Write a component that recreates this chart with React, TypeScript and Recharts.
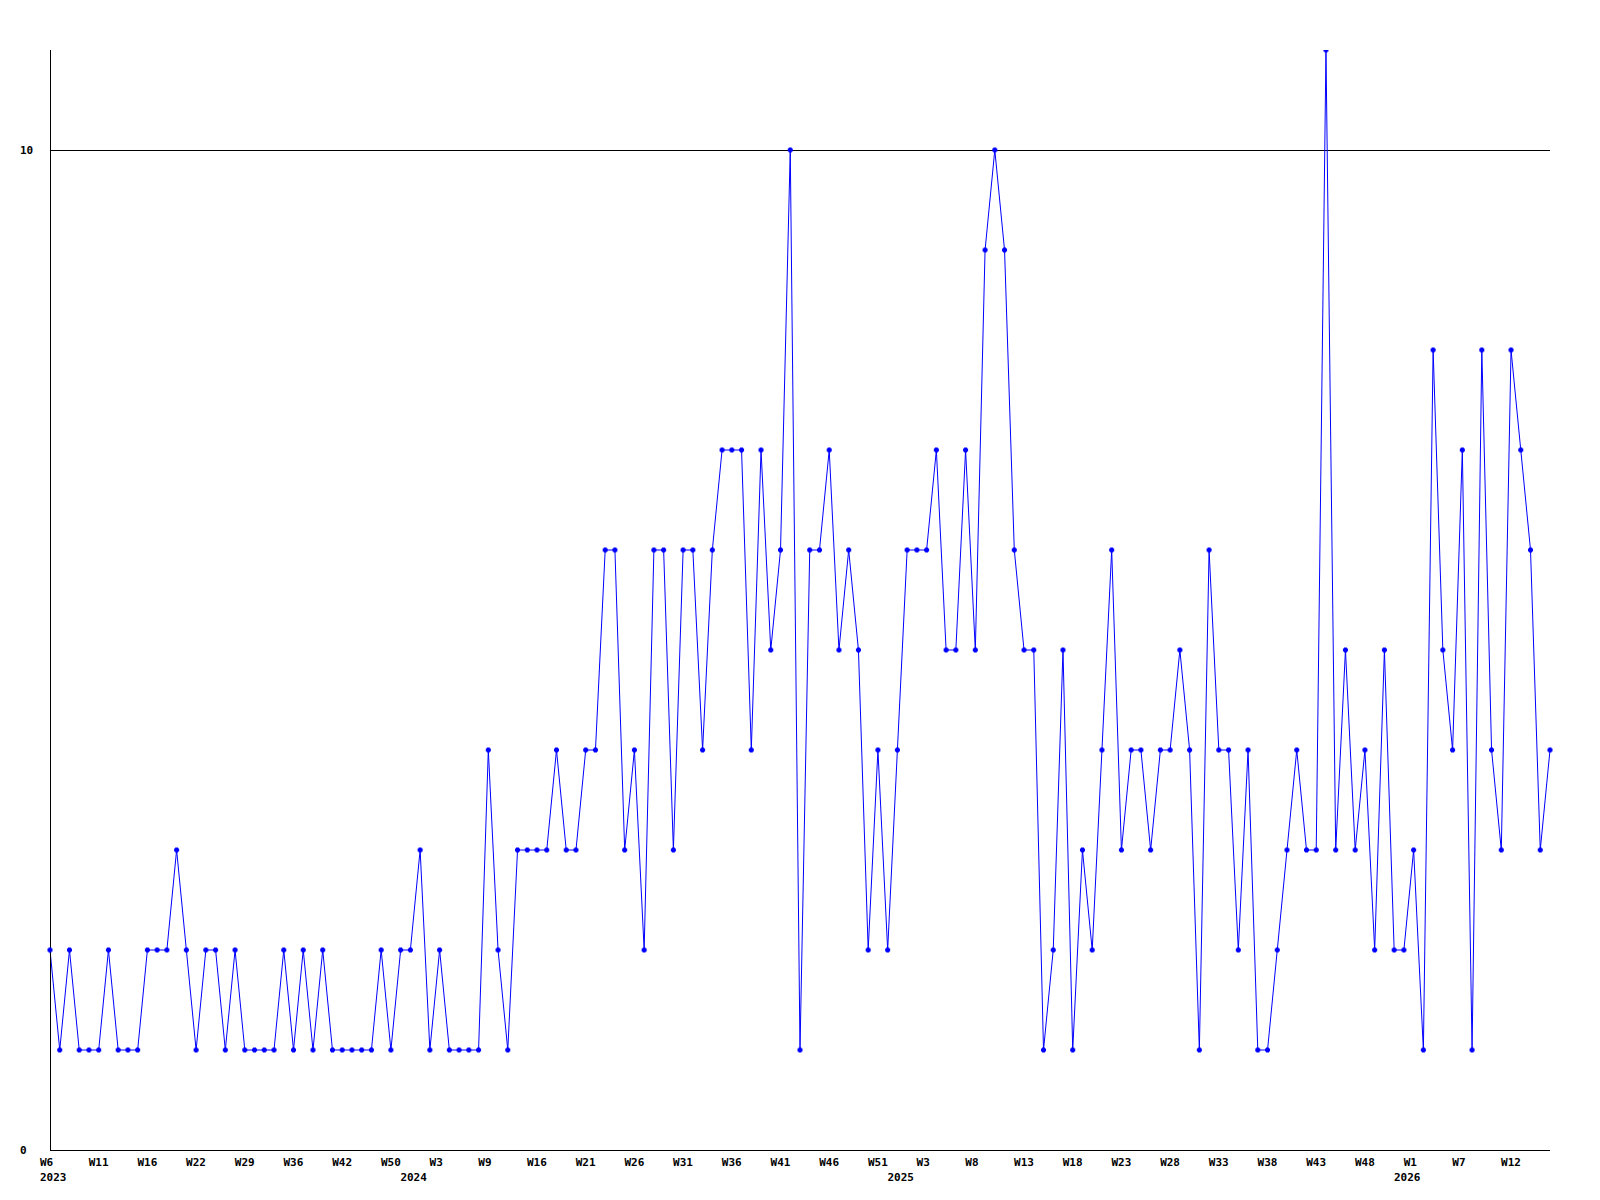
import { LineChart, Line, XAxis, YAxis, ReferenceLine } from "recharts";

// one entry per point, "year-week"
const weeks = [
  "2023-W6", "2023-W7", "2023-W8", "2023-W9", "2023-W10", "2023-W11", "2023-W12", "2023-W13", "2023-W14", "2023-W15",
  "2023-W16", "2023-W17", "2023-W18", "2023-W19", "2023-W20", "2023-W22", "2023-W23", "2023-W24", "2023-W26", "2023-W27",
  "2023-W29", "2023-W30", "2023-W32", "2023-W33", "2023-W34", "2023-W36", "2023-W37", "2023-W38", "2023-W39", "2023-W41",
  "2023-W42", "2023-W44", "2023-W45", "2023-W47", "2023-W48", "2023-W50", "2023-W51",
  "2024-W0", "2024-W1", "2024-W2", "2024-W3", "2024-W4", "2024-W5", "2024-W6", "2024-W8", "2024-W9",
  "2024-W10", "2024-W12", "2024-W13", "2024-W14", "2024-W16", "2024-W17", "2024-W18", "2024-W19", "2024-W20", "2024-W21",
  "2024-W22", "2024-W23", "2024-W24", "2024-W25", "2024-W26", "2024-W27", "2024-W28", "2024-W29", "2024-W30", "2024-W31",
  "2024-W32", "2024-W33", "2024-W34", "2024-W35", "2024-W36", "2024-W37", "2024-W38", "2024-W39", "2024-W40", "2024-W41",
  "2024-W42", "2024-W43", "2024-W44", "2024-W45", "2024-W46", "2024-W47", "2024-W48", "2024-W49", "2024-W50", "2024-W51",
  "2024-W52",
  "2025-W0", "2025-W1", "2025-W2", "2025-W3", "2025-W4", "2025-W5", "2025-W6", "2025-W7", "2025-W8", "2025-W9",
  "2025-W10", "2025-W11", "2025-W12", "2025-W13", "2025-W14", "2025-W15", "2025-W16", "2025-W17", "2025-W18", "2025-W19",
  "2025-W20", "2025-W21", "2025-W22", "2025-W23", "2025-W24", "2025-W25", "2025-W26", "2025-W27", "2025-W28", "2025-W29",
  "2025-W30", "2025-W31", "2025-W32", "2025-W33", "2025-W34", "2025-W35", "2025-W36", "2025-W37", "2025-W38", "2025-W39",
  "2025-W40", "2025-W41", "2025-W42", "2025-W43", "2025-W44", "2025-W45", "2025-W46", "2025-W47", "2025-W48", "2025-W49",
  "2025-W50", "2025-W51",
  "2026-W0", "2026-W1", "2026-W2", "2026-W3", "2026-W4", "2026-W6", "2026-W7", "2026-W8", "2026-W9", "2026-W10",
  "2026-W11", "2026-W12", "2026-W13", "2026-W14", "2026-W15", "2026-W16",
];

const counts = [
  2, 1, 2, 1, 1, 1, 2, 1, 1, 1,
  2, 2, 2, 3, 2, 1, 2, 2, 1, 2,
  1, 1, 1, 1, 2, 1, 2, 1, 2, 1,
  1, 1, 1, 1, 2, 1, 2, 2, 3, 1,
  2, 1, 1, 1, 1, 4, 2, 1, 3, 3,
  3, 3, 4, 3, 3, 4, 4, 6, 6, 3,
  4, 2, 6, 6, 3, 6, 6, 4, 6, 7,
  7, 7, 4, 7, 5, 6, 10, 1, 6, 6,
  7, 5, 6, 5, 2, 4, 2, 4, 6, 6,
  6, 7, 5, 5, 7, 5, 9, 10, 9, 6,
  5, 5, 1, 2, 5, 1, 3, 2, 4, 6,
  3, 4, 4, 3, 4, 4, 5, 4, 1, 6,
  4, 4, 2, 4, 1, 1, 2, 3, 4, 3,
  3, 11, 3, 5, 3, 4, 2, 5, 2, 2,
  3, 1, 8, 5, 4, 7, 1, 8, 4, 3,
  8, 7, 6, 3, 4,
];

const yTicks = [0, 10];
const labelEvery = 5;

const data = weeks.map((w, i) => ({ week: w, count: counts[i] }));

const FONT = "'DejaVu Sans Mono', monospace";
const BLUE = "#0000ff";

// eslint-disable-next-line @typescript-eslint/no-explicit-any
function WeekTick({ x, y, payload, index }: any) {
  const i = payload?.index ?? index;
  const [year, week] = String(payload.value).split("-");
  const prevYear = i > 0 ? weeks[i - 1].split("-")[0] : null;
  const showWeek = i % labelEvery === 0;
  const showYear = year !== prevYear;
  if (!showWeek && !showYear) return <g />;
  return (
    <g>
      {showWeek && (
        <text x={x - 10} y={y} dy={8} fontFamily={FONT} fontSize={11} fontWeight="bold" fill="#000" textAnchor="start">
          {week}
        </text>
      )}
      {showYear && (
        <text x={x - 10} y={y} dy={23} fontFamily={FONT} fontSize={11} fontWeight="bold" fill="#000" textAnchor="start">
          {year}
        </text>
      )}
    </g>
  );
}

// eslint-disable-next-line @typescript-eslint/no-explicit-any
function CountTick({ y, payload }: any) {
  return (
    <text x={20} y={y} dy={4} fontFamily={FONT} fontSize={11} fontWeight="bold" fill="#000" textAnchor="start">
      {payload.value}
    </text>
  );
}

// eslint-disable-next-line @typescript-eslint/no-explicit-any
function Marker({ cx, cy }: any) {
  if (cx == null || cy == null) return <g />;
  return (
    <g>
      <rect x={cx - 2.5} y={cy - 1.5} width={5} height={3} fill={BLUE} />
      <rect x={cx - 1.5} y={cy - 2.5} width={3} height={5} fill={BLUE} />
    </g>
  );
}

export default function App() {
  return (
    <div style={{ position: "absolute", left: 0, top: 0, width: 1600, height: 1200, background: "#fff" }}>
      <LineChart width={1600} height={1200} data={data} margin={{ top: 50, right: 50, bottom: 0, left: 0 }}>
        <XAxis
          dataKey="week"
          interval={0}
          height={50}
          tick={<WeekTick />}
          tickLine={false}
          axisLine={{ stroke: "#000", strokeWidth: 1, shapeRendering: "crispEdges" }}
        />
        <YAxis
          width={50}
          domain={[0, 11]}
          ticks={yTicks}
          tick={<CountTick />}
          tickLine={false}
          axisLine={{ stroke: "#000", strokeWidth: 1, shapeRendering: "crispEdges" }}
          allowDataOverflow
        />
        <ReferenceLine y={10} stroke="#000" strokeWidth={1} shapeRendering="crispEdges" />
        <Line
          type="linear"
          dataKey="count"
          stroke={BLUE}
          strokeWidth={1}
          dot={<Marker />}
          activeDot={false}
          isAnimationActive={false}
        />
      </LineChart>
    </div>
  );
}
